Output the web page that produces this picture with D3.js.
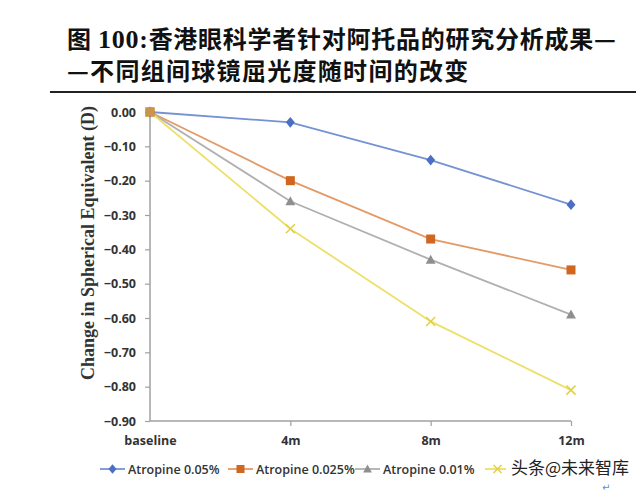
<!DOCTYPE html>
<html><head><meta charset="utf-8">
<script src="https://cdn.jsdelivr.net/npm/d3@7"></script>
<style>body{margin:0;background:#fff}svg{display:block}</style>
</head><body>
<svg id="c" width="640" height="493"></svg>
<script>
const categories = ["baseline", "4m", "8m", "12m"];
const seriesNames = ["Atropine 0.05%", "Atropine 0.025%", "Atropine 0.01%", "Placebo"];
const atropine005 = [0, -0.03, -0.14, -0.27];
const atropine0025 = [0, -0.20, -0.37, -0.46];
const atropine001 = [0, -0.26, -0.43, -0.59];
const placebo = [0, -0.34, -0.61, -0.81];
const yTicks = [0, -0.1, -0.2, -0.3, -0.4, -0.5, -0.6, -0.7, -0.8, -0.9];
const titleLine1 = "图 100:香港眼科学者针对阿托品的研究分析成果—";
const titleLine2 = "—不同组间球镜屈光度随时间的改变";
const yLabel = "Change in Spherical Equivalent (D)";
const watermark = "头条@未来智库";

const series = [
  {name: seriesNames[0], values: atropine005, line: "#7393d3", mark: "#4a6fc4", shape: "diamond"},
  {name: seriesNames[1], values: atropine0025, line: "#e39a66", mark: "#d0661f", shape: "square"},
  {name: seriesNames[2], values: atropine001, line: "#b0b0b0", mark: "#8f8f8f", shape: "triangle"},
  {name: seriesNames[3], values: placebo, line: "#ede06a", mark: "#e2d040", shape: "x"}
];

const svg = d3.select("#c");
const x = d3.scalePoint().domain(categories).range([150, 571]);
const y = d3.scaleLinear().domain([-0.9, 0]).range([421, 112]);

// Title
const cjk = "'Noto Sans CJK SC', sans-serif";
const t1 = svg.append("text").attr("x", 67).attr("y", 48).attr("font-family", cjk)
  .attr("font-size", 24).attr("font-weight", 700).attr("fill", "#111").attr("letter-spacing", 0.75);
t1.append("tspan").text("图 ");
t1.append("tspan").attr("font-family", "'Liberation Serif', serif").attr("font-size", 26).text("100:");
t1.append("tspan").text(titleLine1.slice(6));
svg.append("text").attr("x", 67).attr("y", 80).attr("font-family", cjk)
  .attr("font-size", 24).attr("font-weight", 700).attr("fill", "#111").attr("letter-spacing", 1.3).text(titleLine2);
svg.append("line").attr("x1", 50).attr("x2", 636).attr("y1", 92).attr("y2", 92)
  .attr("stroke", "#222").attr("stroke-width", 2);

// Axes
const axisColor = "#a0a0a0";
const gy = svg.append("g").attr("transform", "translate(150,0)")
  .call(d3.axisLeft(y).tickValues(yTicks).tickSize(5).tickPadding(9).tickFormat(d3.format(".2f")));
const gx = svg.append("g").attr("transform", "translate(0,421)")
  .call(d3.axisBottom(x).tickSize(5).tickPadding(8));
[gy, gx].forEach(g => {
  g.select(".domain").attr("stroke", axisColor).attr("stroke-width", 1.5);
  g.selectAll(".tick line").attr("stroke", axisColor).attr("stroke-width", 1.2);
  g.selectAll(".tick text").attr("fill", "#333").attr("font-family", "'Open Sans', 'DejaVu Sans', sans-serif")
    .attr("font-size", 12.5).attr("font-weight", 700);
});
gy.select(".domain").attr("d", "M0,421V112");
gx.select(".domain").attr("d", "M150,0H571");
gx.selectAll(".tick").filter(d => d === "baseline").select("line").remove();
gx.selectAll(".tick text").attr("dy", "0.9em");

// Y label
svg.append("text").attr("transform", "translate(94,243) rotate(-90)").attr("text-anchor", "middle")
  .attr("font-family", "'Liberation Serif', serif").attr("font-weight", 700).attr("font-size", 18)
  .attr("fill", "#333").text(yLabel);

// Markers
function drawMarker(g, shape, color, cx, cy, s) {
  if (shape === "diamond") {
    g.append("path").attr("d", `M${cx},${cy - s * 0.6}L${cx + s * 0.5},${cy}L${cx},${cy + s * 0.6}L${cx - s * 0.5},${cy}Z`).attr("fill", color);
  } else if (shape === "square") {
    g.append("rect").attr("x", cx - s / 2).attr("y", cy - s / 2).attr("width", s).attr("height", s).attr("fill", color);
  } else if (shape === "triangle") {
    g.append("path").attr("d", `M${cx},${cy - s * 0.55}L${cx + s * 0.55},${cy + s * 0.45}L${cx - s * 0.55},${cy + s * 0.45}Z`).attr("fill", color);
  } else {
    const h = s * 0.5;
    g.append("path").attr("d", `M${cx - h},${cy - h}L${cx + h},${cy + h}M${cx - h},${cy + h}L${cx + h},${cy - h}`)
      .attr("stroke", color).attr("stroke-width", 1.5).attr("fill", "none");
  }
}

const line = d3.line().x((d, i) => x(categories[i])).y(d => y(d));
const plot = svg.append("g");
series.forEach(s => {
  plot.append("path").datum(s.values).attr("d", line).attr("fill", "none")
    .attr("stroke", s.line).attr("stroke-width", 1.8);
});
series.forEach(s => {
  s.values.forEach((v, i) => drawMarker(plot, s.shape, s.mark, x(categories[i]), y(v), 9));
});
// overlapping baseline markers appear tan
drawMarker(plot, "square", "#c9954a", x(categories[0]), y(atropine0025[0]), 9);

// Legend (the fourth label is hidden under the watermark in the source)
const legendX = [100, 228, 355, 485];
const lg = svg.append("g");
series.forEach((s, i) => {
  const lx = legendX[i], ly = 469;
  lg.append("line").attr("x1", lx).attr("x2", lx + 25).attr("y1", ly).attr("y2", ly)
    .attr("stroke", s.line).attr("stroke-width", 1.8);
  drawMarker(lg, s.shape, s.mark, lx + 12.5, ly, 8);
  if (i < 3) {
    lg.append("text").attr("x", lx + 28).attr("y", ly + 4.5).attr("font-family", "'Open Sans', 'DejaVu Sans', sans-serif")
      .attr("font-size", 12.5).attr("font-weight", 600).attr("fill", "#333").text(s.name);
  }
});

// Watermark
svg.append("rect").attr("x", 506).attr("y", 455).attr("width", 130).attr("height", 30).attr("fill", "#fff").attr("opacity", 0.92);
svg.append("text").attr("x", 511).attr("y", 474).attr("font-family", cjk).attr("font-size", 17)
  .attr("fill", "#222").text(watermark);
svg.append("text").attr("x", 602).attr("y", 491).attr("font-family", "'DejaVu Sans', sans-serif").attr("font-size", 10)
  .attr("fill", "#5b8fd6").text("↵");
</script>
</body></html>
